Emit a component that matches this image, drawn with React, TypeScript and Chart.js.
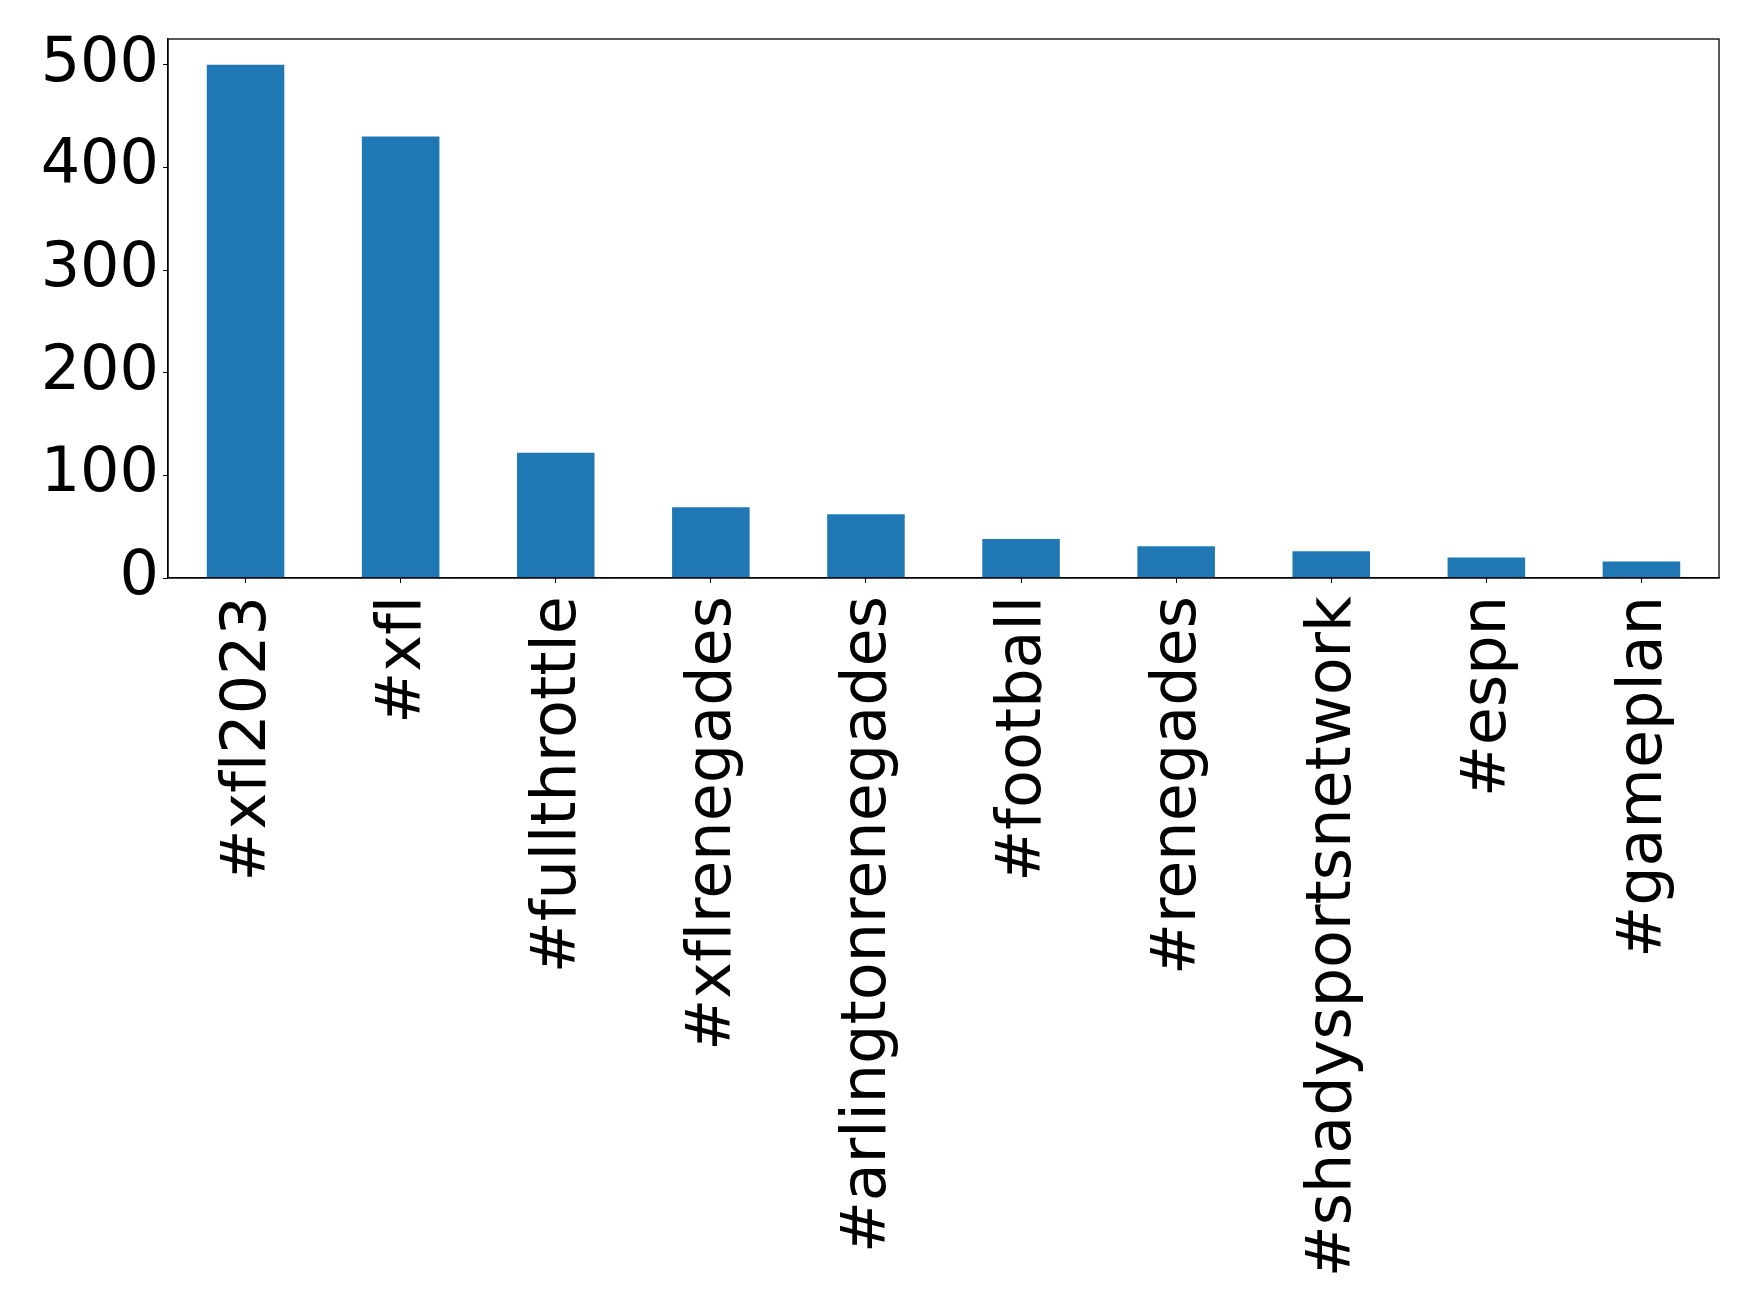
import React, { useEffect, useRef } from "react";
import { Chart, registerables } from "chart.js";

Chart.register(...registerables);

const categories = [
  "#xfl2023",
  "#xfl",
  "#fullthrottle",
  "#xflrenegades",
  "#arlingtonrenegades",
  "#football",
  "#renegades",
  "#shadysportsnetwork",
  "#espn",
  "#gameplan",
];
const counts = [500, 430, 122, 69, 62, 38, 31, 26, 20, 16];
const yTicks = [0, 100, 200, 300, 400, 500];

const W = 1759;
const H = 1314;

const noLigatures = {
  id: "noLigatures",
  beforeUpdate(chart: any) {
    try {
      chart.ctx.letterSpacing = "0.01px";
    } catch (e) {}
  },
  beforeDraw(chart: any) {
    try {
      chart.ctx.letterSpacing = "0.01px";
    } catch (e) {}
  },
};

const frame = {
  id: "frame",
  afterDraw(chart: any) {
    const { ctx, chartArea } = chart;
    ctx.save();
    ctx.strokeStyle = "#000";
    ctx.lineWidth = 1.3;
    ctx.strokeRect(chartArea.left, chartArea.top, chartArea.right - chartArea.left, chartArea.bottom - chartArea.top);
    ctx.restore();
  },
};

export default function App() {
  const ref = useRef<HTMLCanvasElement | null>(null);
  useEffect(() => {
    if (!ref.current) return;
    const font = { family: "'DejaVu Sans', sans-serif", size: 62 };
    const chart = new Chart(ref.current, {
      type: "bar",
      data: {
        labels: categories,
        datasets: [
          {
            data: counts,
            backgroundColor: "#1f77b4",
            categoryPercentage: 1,
            barPercentage: 0.5,
          },
        ],
      },
      options: {
        animation: false,
        responsive: false,
        devicePixelRatio: 1,
        layout: { padding: { top: 39, left: 30, right: 40, bottom: 0 } },
        plugins: { legend: { display: false }, tooltip: { enabled: false } },
        scales: {
          x: {
            offset: true,
            grid: { display: true, offset: false, drawOnChartArea: false, drawTicks: true, tickLength: 5, color: "#000" },
            border: { display: true, color: "#000", width: 1.3 },
            ticks: { font, color: "#000", minRotation: 90, maxRotation: 90, padding: 13, labelOffset: 3, autoSkip: false },
            afterFit(scale: any) {
              scale.height = H - 578;
              scale.paddingLeft = 0;
              scale.paddingRight = 0;
            },
          },
          y: {
            min: 0,
            max: 525,
            grid: { display: true, drawOnChartArea: false, drawTicks: true, tickLength: 5, color: "#000" },
            border: { display: true, color: "#000", width: 1.3 },
            ticks: { font, color: "#000", padding: 4, stepSize: 100 },
            afterBuildTicks(scale: any) {
              scale.ticks = yTicks.map((v) => ({ value: v }));
            },
            afterFit(scale: any) {
              scale.width = 138;
              scale.paddingTop = 0;
              scale.paddingBottom = 0;
            },
          },
        },
      },
      plugins: [noLigatures, frame],
    });
    return () => chart.destroy();
  }, []);
  return (
    <div style={{ position: "absolute", left: 0, top: 0, width: W, height: H, background: "#fff" }}>
      <canvas ref={ref} width={W} height={H} style={{ width: W, height: H, display: "block" }} />
    </div>
  );
}
